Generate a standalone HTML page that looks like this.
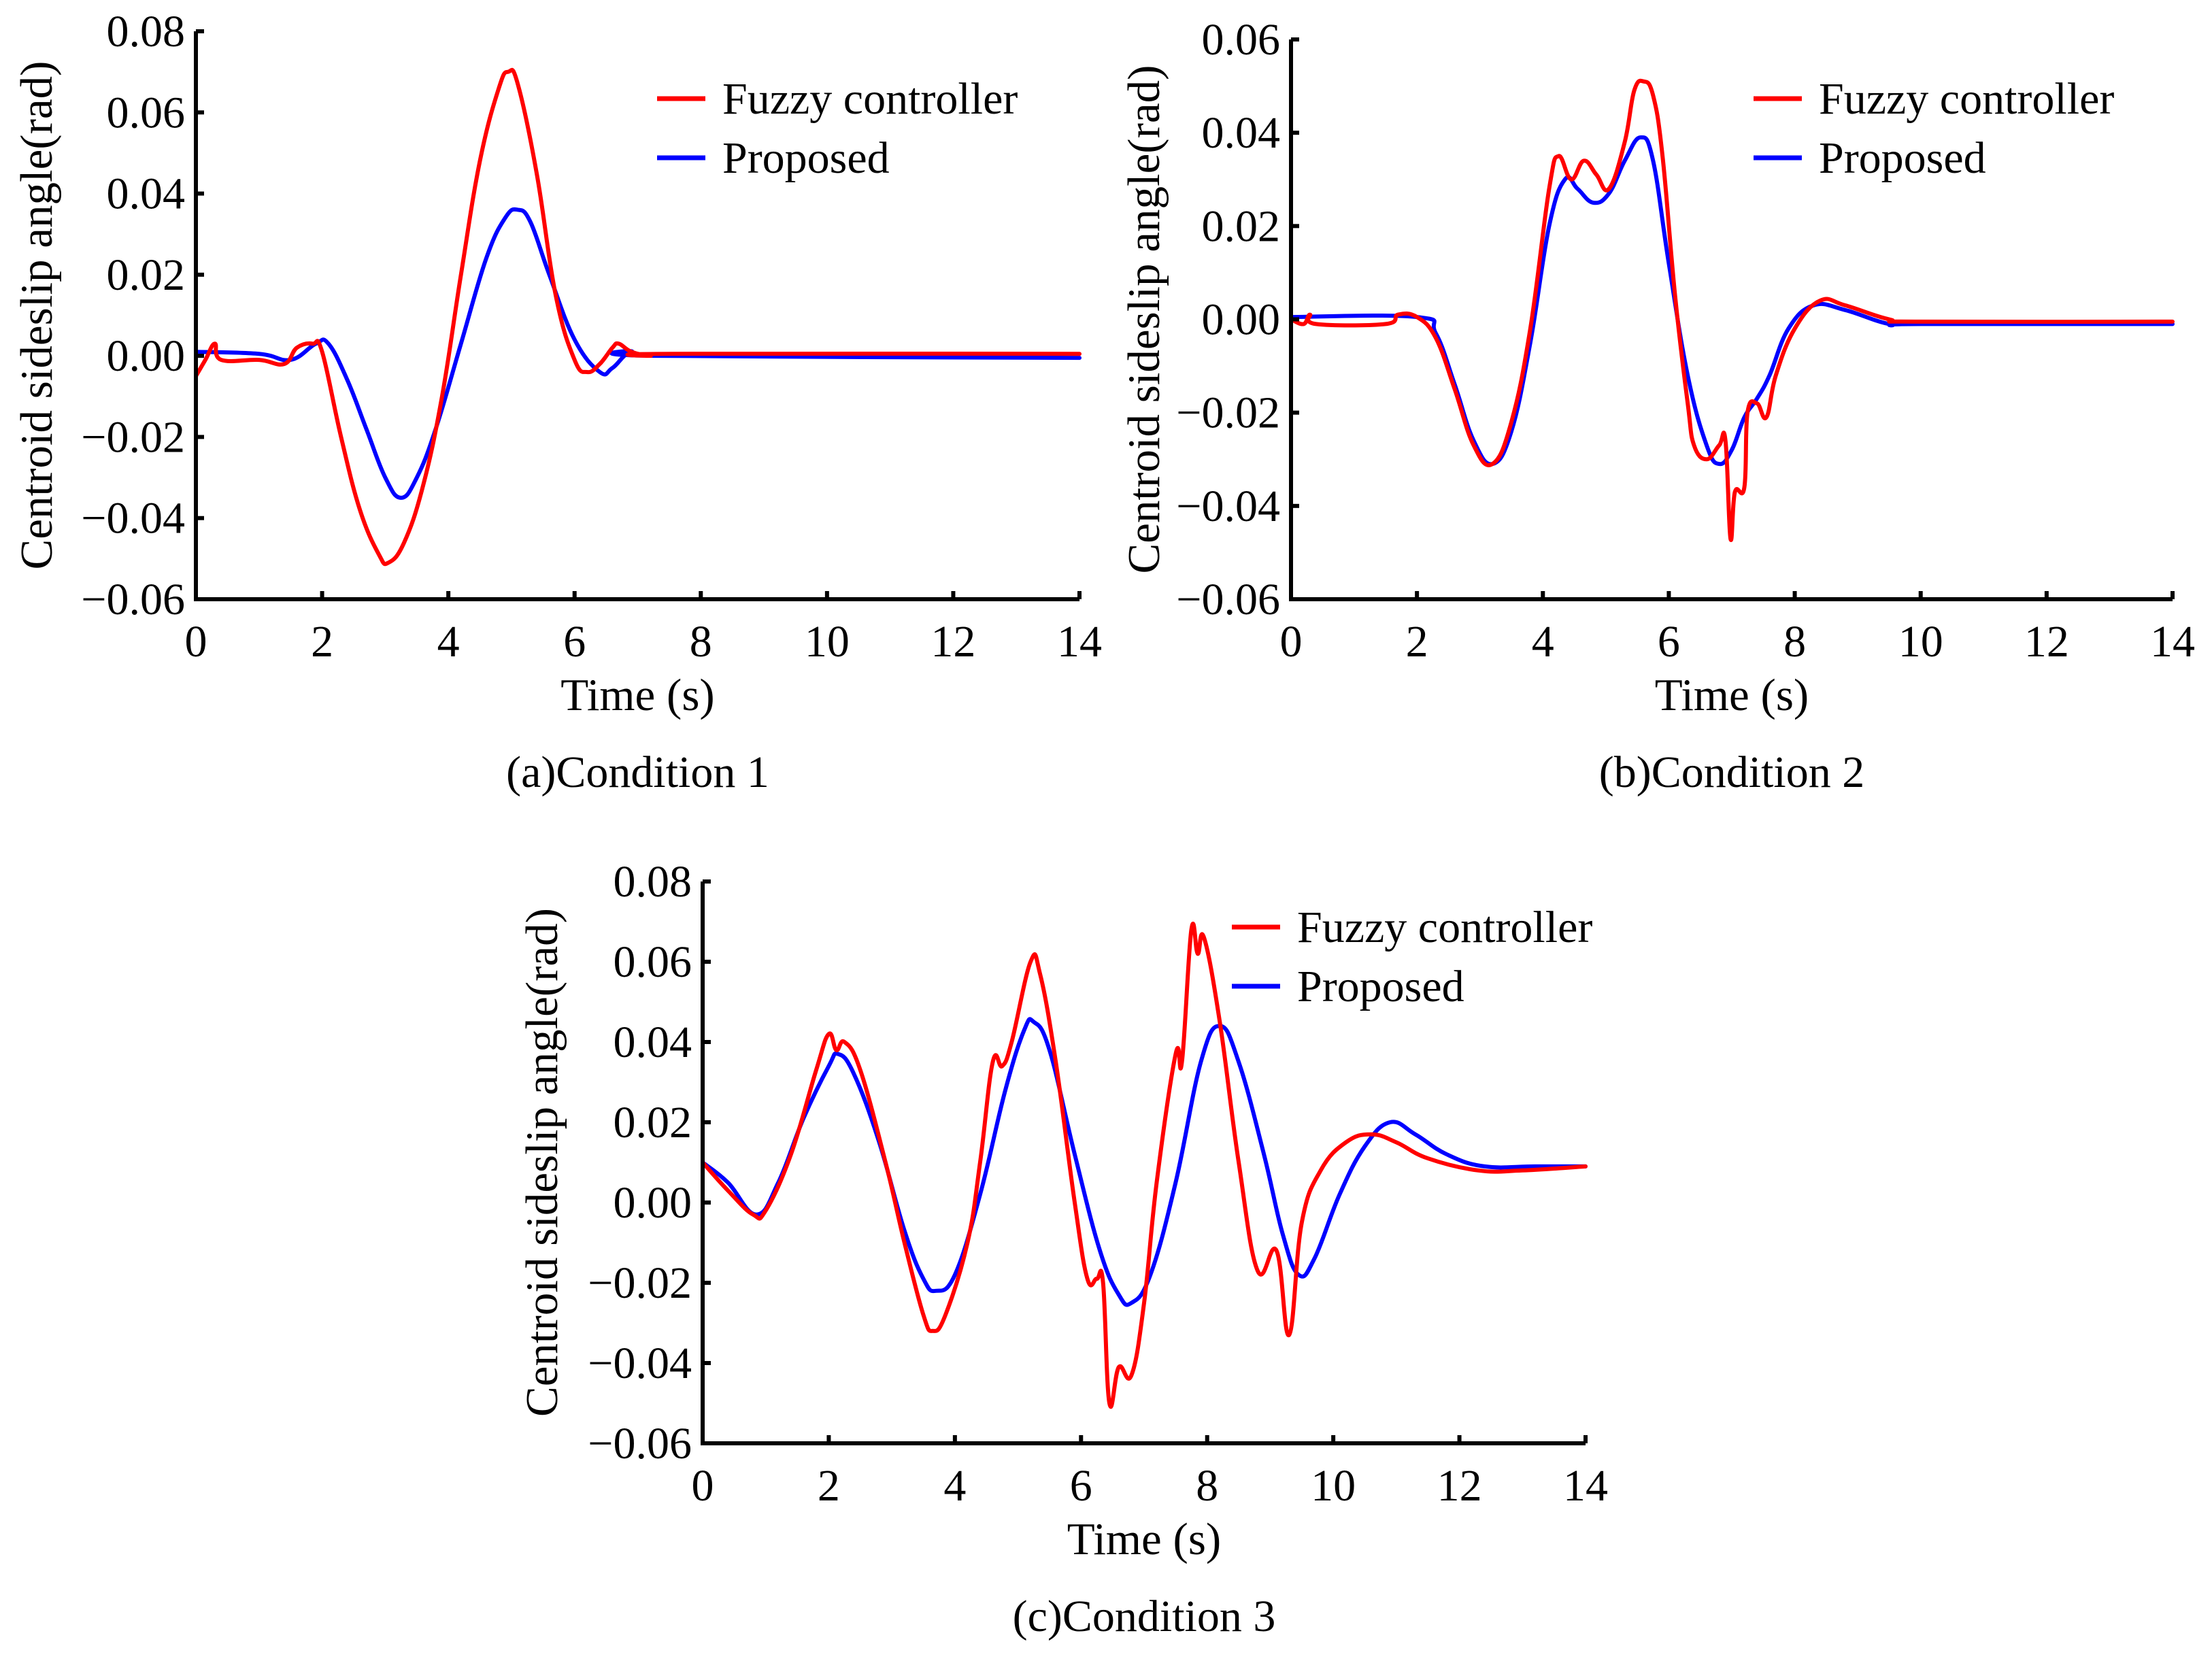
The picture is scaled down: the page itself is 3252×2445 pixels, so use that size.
<!DOCTYPE html>
<html><head><meta charset="utf-8"><style>
html,body{margin:0;padding:0;background:#fff}
svg text{font-family:"Liberation Serif",serif;fill:#000}
</style></head><body>
<svg id="fig" width="3252" height="2440" viewBox="0 0 3252 2440" xmlns="http://www.w3.org/2000/svg"></svg>
<script>
const xTicks=[0,2,4,6,8,10,12,14];
const yTicksA=[0.08,0.06,0.04,0.02,0,-0.02,-0.04,-0.06];
const yTicksB=[0.06,0.04,0.02,0,-0.02,-0.04,-0.06];
const yTicksC=[0.08,0.06,0.04,0.02,0,-0.02,-0.04,-0.06];
const fuzzyA=[[0,-0.005],[0.15,-0.001],[0.3,0.003],[0.4,-0.001],[1,-0.001],[1.4,-0.002],[1.6,0.002],[1.85,0.003],[2,0.001],[2.3,-0.02],[2.6,-0.038],[2.9,-0.049],[3.05,-0.051],[3.3,-0.046],[3.6,-0.032],[3.9,-0.01],[4.2,0.02],[4.5,0.048],[4.8,0.066],[4.95,0.07],[5.1,0.067],[5.4,0.045],[5.7,0.015],[6.0,-0.001],[6.2,-0.004],[6.4,-0.002],[6.6,0.002],[6.7,0.003],[6.9,0.001],[7.2,0],[7.5,0.0005],[14,0.0005]];
const propA=[[0,0.001],[1,0.0005],[1.5,-0.001],[1.9,0.003],[2.1,0.003],[2.4,-0.006],[2.7,-0.018],[3.0,-0.03],[3.25,-0.035],[3.5,-0.03],[3.8,-0.018],[4.2,0.003],[4.6,0.024],[4.9,0.034],[5.1,0.036],[5.3,0.033],[5.6,0.02],[6.0,0.004],[6.4,-0.004],[6.6,-0.003],[6.9,0.001],[7.3,0],[14,-0.0005]];
const fuzzyB=[[0,0],[0.2,-0.001],[0.3,0.001],[0.4,-0.001],[1.5,-0.001],[1.7,0.001],[2,0.0005],[2.3,-0.004],[2.6,-0.015],[2.9,-0.027],[3.2,-0.031],[3.5,-0.022],[3.8,-0.002],[4.1,0.028],[4.25,0.035],[4.45,0.03],[4.65,0.034],[4.85,0.031],[5.05,0.028],[5.3,0.038],[5.45,0.049],[5.6,0.051],[5.75,0.048],[5.9,0.035],[6.1,0.005],[6.3,-0.018],[6.4,-0.027],[6.6,-0.03],[6.8,-0.027],[6.9,-0.026],[6.98,-0.047],[7.05,-0.037],[7.2,-0.036],[7.25,-0.02],[7.4,-0.018],[7.55,-0.021],[7.7,-0.012],[8.0,-0.002],[8.4,0.004],[8.8,0.003],[9.5,0],[10,-0.0005],[14,-0.0005]];
const propB=[[0,0.0005],[2,0.0005],[2.3,-0.003],[2.6,-0.014],[2.9,-0.026],[3.2,-0.031],[3.5,-0.024],[3.8,-0.005],[4.1,0.02],[4.35,0.03],[4.55,0.028],[4.8,0.025],[5.05,0.027],[5.3,0.034],[5.55,0.039],[5.75,0.034],[6.0,0.012],[6.3,-0.012],[6.6,-0.027],[6.8,-0.031],[7.0,-0.028],[7.2,-0.021],[7.4,-0.017],[7.6,-0.012],[7.9,-0.002],[8.3,0.003],[8.8,0.002],[9.5,-0.001],[10,-0.001],[14,-0.001]];
const fuzzyC=[[0,0.01],[0.4,0.003],[0.8,-0.003],[1.0,-0.002],[1.4,0.012],[1.8,0.033],[2.0,0.042],[2.12,0.038],[2.25,0.04],[2.5,0.033],[2.9,0.01],[3.2,-0.01],[3.5,-0.028],[3.65,-0.032],[3.85,-0.028],[4.2,-0.01],[4.4,0.01],[4.6,0.035],[4.75,0.034],[4.9,0.04],[5.2,0.06],[5.35,0.057],[5.6,0.035],[5.9,0.0],[6.1,-0.019],[6.25,-0.019],[6.35,-0.02],[6.45,-0.05],[6.6,-0.041],[6.8,-0.043],[7.0,-0.025],[7.2,0.005],[7.5,0.037],[7.6,0.035],[7.75,0.068],[7.85,0.062],[7.95,0.066],[8.2,0.045],[8.5,0.01],[8.8,-0.017],[9.1,-0.012],[9.3,-0.033],[9.5,-0.005],[9.8,0.008],[10.2,0.015],[10.6,0.017],[11.0,0.015],[11.5,0.011],[12.3,0.008],[13,0.008],[14,0.009]];
const propC=[[0,0.01],[0.4,0.005],[0.85,-0.003],[1.2,0.005],[1.6,0.021],[2.0,0.034],[2.15,0.037],[2.4,0.032],[2.8,0.015],[3.2,-0.007],[3.5,-0.019],[3.7,-0.022],[4.0,-0.018],[4.4,0.002],[4.8,0.028],[5.1,0.043],[5.25,0.045],[5.5,0.038],[5.9,0.012],[6.3,-0.012],[6.6,-0.023],[6.8,-0.025],[7.1,-0.018],[7.5,0.005],[7.9,0.035],[8.2,0.044],[8.5,0.035],[8.9,0.012],[9.2,-0.008],[9.45,-0.018],[9.7,-0.014],[10.1,0.002],[10.5,0.014],[10.9,0.02],[11.3,0.017],[11.8,0.012],[12.4,0.009],[13.2,0.009],[14,0.009]];
const legendLabels=["Fuzzy controller","Proposed"];

const NS="http://www.w3.org/2000/svg";
const svg=document.getElementById('fig');
function mk(tag,attrs,parent){const e=document.createElementNS(NS,tag);for(const k in attrs)e.setAttribute(k,attrs[k]);(parent||svg).appendChild(e);return e;}
function txt(s,attrs,parent){const e=mk('text',attrs,parent);e.textContent=s;return e;}
function smooth(pts){
  let d='M'+pts[0][0].toFixed(1)+' '+pts[0][1].toFixed(1);
  for(let i=0;i<pts.length-1;i++){
    const p0=pts[Math.max(0,i-1)],p1=pts[i],p2=pts[i+1],p3=pts[Math.min(pts.length-1,i+2)];
    const t=0.2;
    const c1=[p1[0]+(p2[0]-p0[0])*t,p1[1]+(p2[1]-p0[1])*t];
    const c2=[p2[0]-(p3[0]-p1[0])*t,p2[1]-(p3[1]-p1[1])*t];
    d+=`C${c1[0].toFixed(1)} ${c1[1].toFixed(1)} ${c2[0].toFixed(1)} ${c2[1].toFixed(1)} ${p2[0].toFixed(1)} ${p2[1].toFixed(1)}`;
  }
  return d;
}

function panel(id,box,yTicks,fuzzy,prop,caption,leg){
  const g=mk('g',{});
  
  
  const ymax=yTicks[0],ymin=yTicks[yTicks.length-1];
  const sx=v=>box.x0+(v-0)/(14-0)*(box.x1-box.x0);
  const sy=v=>box.y1+(v-ymin)/(ymax-ymin)*(box.y0-box.y1);
  function series(data,color,name){
    const p=mk('path',{d:smooth(data.map(d=>[sx(d[0]),sy(d[1])])),fill:'none',stroke:color,'stroke-width':6,'stroke-linejoin':'round','stroke-linecap':'round'},g);
    
    
  }
  series(prop,'#0000ff','proposed-line');
  series(fuzzy,'#ff0000','fuzzy-line');
  const ax=mk('path',{d:`M${box.x0} ${box.y0}V${box.y1}H${box.x1}`,fill:'none',stroke:'#000','stroke-width':6},g);
  
  
  xTicks.forEach(t=>{
    const x=sx(t);
    mk('line',{x1:x,x2:x,y1:box.y1,y2:box.y1-12,stroke:'#000','stroke-width':6},g);
    const l=txt(String(t),{x:x,y:box.y1+84,'font-size':66,'text-anchor':'middle'},g);
    
    
  });
  yTicks.forEach(t=>{
    const y=sy(t);
    mk('line',{x1:box.x0,x2:box.x0+12,y1:y,y2:y,stroke:'#000','stroke-width':6},g);
    const s=(t<0?'\u2212':'')+Math.abs(t).toFixed(2);
    const l=txt(s,{x:box.x0-16,y:y+22,'font-size':66,'text-anchor':'end'},g);
    
    
  });
  const cx=(box.x0+box.x1)/2;
  const xt=txt('Time (s)',{x:cx,y:box.y1+163,'font-size':67,'text-anchor':'middle'},g);
  
  
  const cp=txt(caption,{x:cx,y:box.y1+276,'font-size':66,'text-anchor':'middle'},g);
  
  
  const cy=(box.y0+box.y1)/2;
  const yt=txt('Centroid sideslip angle(rad)',{x:0,y:0,'font-size':67,'text-anchor':'middle',transform:`translate(${box.yt} ${cy}) rotate(-90)`},g);
  
  
  [['#ff0000',0],['#0000ff',1]].forEach(([c,i])=>{
    const y=leg.y+i*87;
    const ln=mk('line',{x1:leg.x,x2:leg.x+71,y1:y,y2:y,stroke:c,'stroke-width':7},g);
    
    
    const lt=txt(legendLabels[i],{x:leg.x+96,y:y+22,'font-size':66},g);
    
    
  });
}
panel('panel-a',{x0:288,x1:1587,y0:46,y1:881,yt:76},yTicksA,fuzzyA,propA,'(a)Condition 1',{x:966,y:145});
panel('panel-b',{x0:1898,x1:3194,y0:58,y1:881,yt:1704},yTicksB,fuzzyB,propB,'(b)Condition 2',{x:2578,y:145});
panel('panel-c',{x0:1033,x1:2331,y0:1296,y1:2122,yt:819},yTicksC,fuzzyC,propC,'(c)Condition 3',{x:1811,y:1363});
</script>
</body></html>
